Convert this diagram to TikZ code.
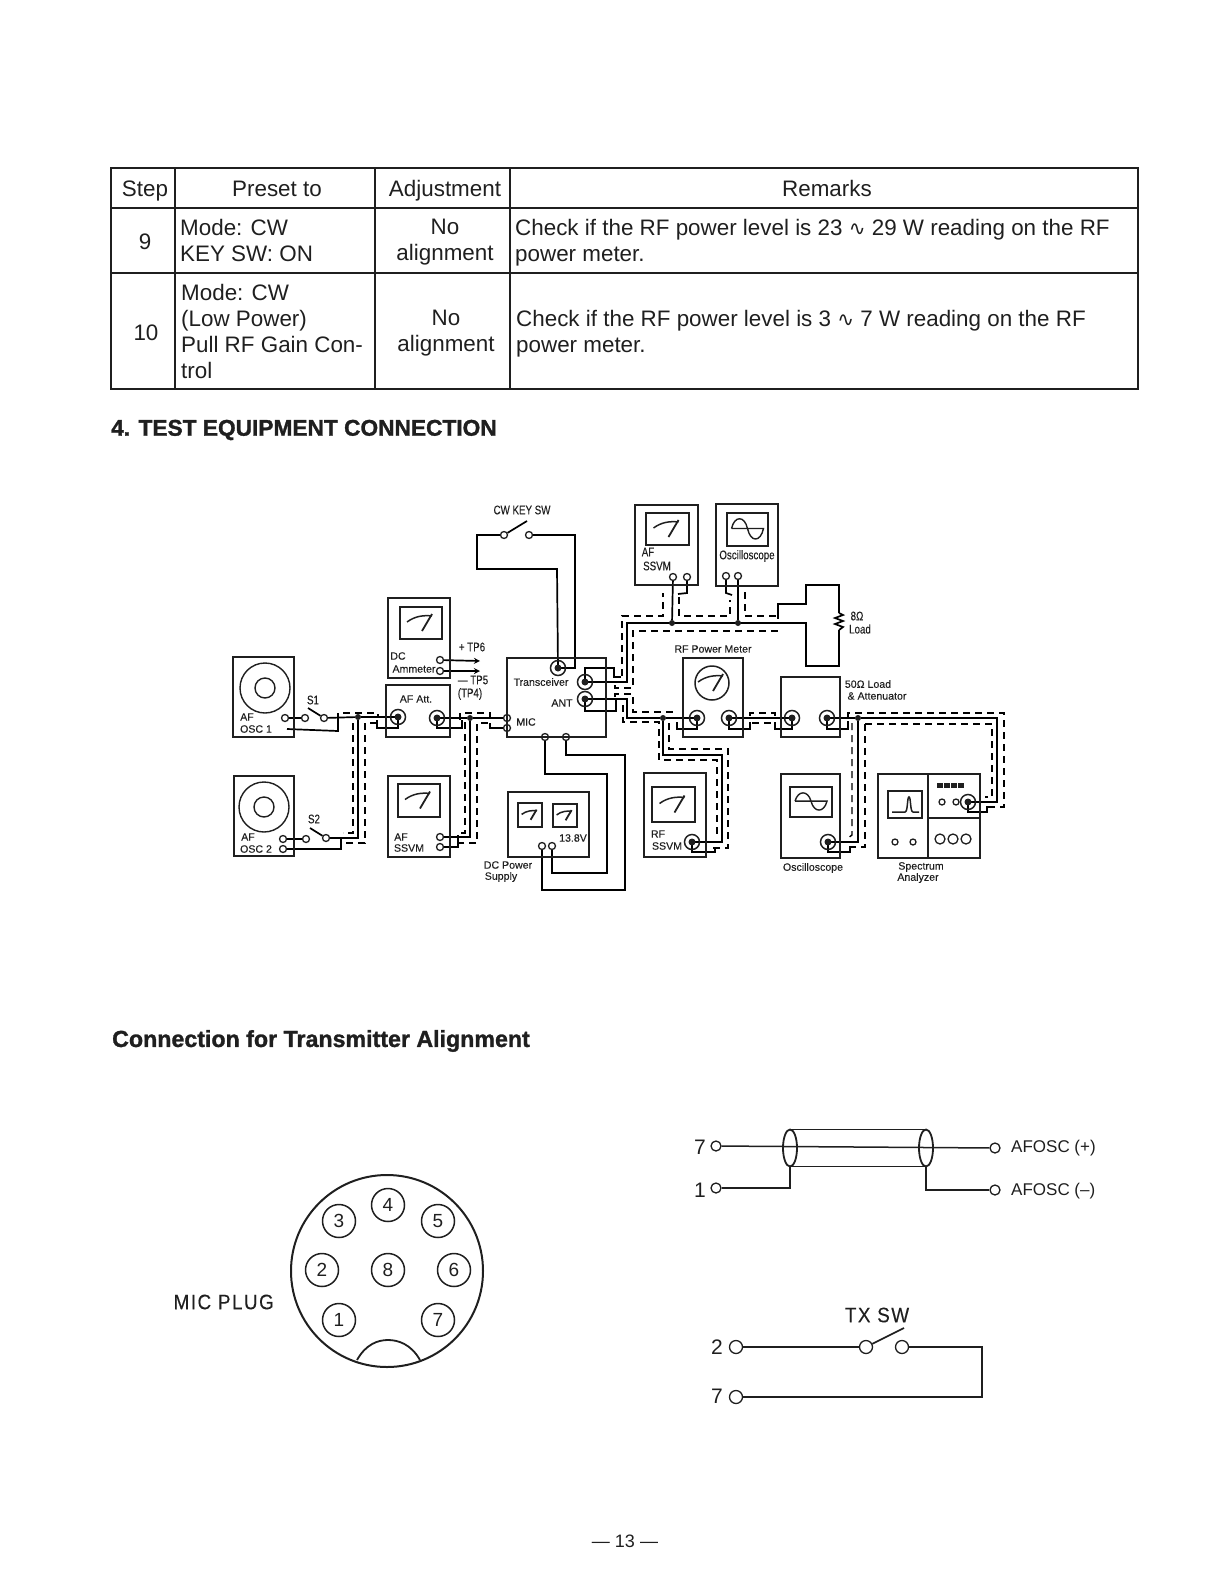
\documentclass[tikz,border=0pt]{standalone}
\usepackage{fontspec}
\usepackage{amsmath, amssymb}
\setmainfont{Liberation Sans}
\newfontfamily\headfont[BoldFeatures={FakeBold=1.3}]{Liberation Sans}
\newfontfamily\narrowfont[FakeStretch=0.78,FakeBold=0.15]{Liberation Sans}
\newfontfamily\labelfont[FakeBold=0.15]{Liberation Sans}
\newfontfamily\platefont[FakeStretch=0.9,LetterSpace=7,FakeBold=0.2]{Liberation Sans}
\newfontfamily\sinefont{DejaVu Sans}
\usetikzlibrary{arrows.meta, positioning, shapes.geometric, backgrounds, calc}
\colorlet{ink}{black!88}
\begin{document}
\begin{tikzpicture}[
  x=1pt, y=-1pt, color=ink,
  cell/.style={font=\fontsize{22.4}{26}\selectfont, inner sep=0pt, align=left,
    execute at begin node=\strut, execute at end node=\strut},
  ccell/.style={cell, align=center},
  heading/.style={font=\headfont\bfseries\fontsize{22.7}{26}\selectfont, anchor=west, inner sep=0pt},
  lbl/.style={font=\labelfont\fontsize{10.6}{12}\selectfont, inner sep=0pt, align=left},
  cond/.style={font=\narrowfont\fontsize{12.5}{14}\selectfont, inner sep=0pt, align=left},
  plate/.style={font=\fontsize{17}{20}\selectfont, inner sep=0pt, anchor=west},
  spaced/.style={font=\platefont\fontsize{21}{24}\selectfont, inner sep=0pt},
  figure/.style={font=\fontsize{21}{24}\selectfont, inner sep=0pt},
  unit/.style={draw, rectangle, line width=1.7pt, inner sep=0pt},
  screen/.style={draw, rectangle, line width=1.6pt, inner sep=0pt},
  port/.style={circle, draw, line width=1.3pt, inner sep=0pt, minimum size=7pt},
  jack/.style={circle, draw, line width=1.5pt, inner sep=0pt, minimum size=15pt,
    path picture={\fill (path picture bounding box.center) circle (3.5pt);}},
  junc/.style={circle, fill, inner sep=0pt, minimum size=6pt},
  pin/.style={circle, draw, line width=1.5pt, inner sep=0pt, minimum size=33pt,
    font=\fontsize{19}{22}\selectfont},
  capend/.style={ellipse, draw, line width=1.8pt, minimum width=14pt, minimum height=37pt,
    inner sep=0pt, outer sep=0pt},
  wire/.style={line width=1.7pt, line join=miter},
  fine/.style={line width=1.5pt, line join=miter},
  shield/.style={line width=1.4pt, dash pattern=on 7pt off 5pt},
  arr/.style={->, >=stealth, wire},
  rule/.style={line width=1.1pt},
  needle/.pic={
    \draw[line width=1.5pt] (-14,-1) .. controls (-6,-7) and (3,-8) .. (11,-7);
    \draw[line width=1.8pt] (1,8) -- (11,-9);
  },
  wave/.pic={
    \draw[line width=1.4pt] (-16,-1) .. controls (-13,-14) and (-3,-14) .. (0,-1)
      .. controls (3,13) and (13,13) .. (16,-1) -- (-16,-1);
  }
]
  \useasboundingbox (0,0) rectangle (1224,1584);

  % table
  \draw[rule] (111,168) rectangle (1138,389);
  \draw[rule] (111,208) -- (1138,208) (111,273) -- (1138,273);
  \draw[rule] (175,168) -- (175,389) (375,168) -- (375,389) (510,168) -- (510,389);
  \node[ccell] (hStep)   at (145,191) {Step};
  \node[ccell] (hPreset) at (277,191) {Preset to};
  \node[ccell] (hAdj)    at (445,191) {Adjustment};
  \node[ccell] (hRem)    at (827,191) {Remarks};
  \node[ccell] (step9)   at (145,244) {9};
  \node[ccell] (step10)  at (146,335) {10};
  \node[cell, anchor=west] (preset9)  at (180,244) {Mode: CW\\KEY SW: ON};
  \node[cell, anchor=west] (preset10) at (181,335) {Mode: CW\\(Low Power)\\Pull RF Gain Con-\\trol};
  \node[ccell] (adj9)  at (445,244) {No\\alignment};
  \node[ccell] (adj10) at (446,335) {No\\alignment};
  \node[cell, anchor=west] (rem9)  at (515,244)
    {Check if the RF power level is 23 {\sinefont\fontsize{20}{20}\selectfont ∿} 29 W reading on the RF\\power meter.};
  \node[cell, anchor=west] (rem10) at (516,335)
    {Check if the RF power level is 3 {\sinefont\fontsize{20}{20}\selectfont ∿} 7 W reading on the RF\\power meter.};
  \node[heading] (head4) at (111,430) {4. TEST EQUIPMENT CONNECTION};
  \node[heading, font=\headfont\bfseries\fontsize{23.2}{26}\selectfont] (headTx) at (112,1041) {Connection for Transmitter Alignment};

  % instruments
  \foreach \nm/\xa/\ya/\xb/\yb in
    {oscA/233/657/294/737, oscB/234/776/294/856, ammeter/388/598/450/678,
     att/386/685/450/737, ssvmA/388/776/450/857, xcvr/507/658/606/737,
     supply/508/792/589/857, ssvmB/635/505/698/585, scopeA/716/504/778/586,
     rfmeter/683/658/743/737, ssvmC/644/773/706/857, load/781/677/840/737,
     scopeB/781/774/840/858, analyzer/878/774/980/858}
    \node[unit, minimum width={(\xb-\xa)*1pt}, minimum height={(\yb-\ya)*1pt}]
      (\nm) at ({(\xa+\xb)/2},{(\ya+\yb)/2}) {};
  \foreach \nm/\xa/\ya/\xb/\yb in
    {scrC/400/607/442/639, scrS/398/784/440/817, scrM1/518/803/542/827, scrM2/553/804/577/827,
     scrT/646/513/689/545, scrO/727/513/768/546, scrR/652/787/695/822, scrP/790/787/832/817,
     scrA/888/791/922/818}
    \node[screen, minimum width={(\xb-\xa)*1pt}, minimum height={(\yb-\ya)*1pt}]
      (\nm) at ({(\xa+\xb)/2},{(\ya+\yb)/2}) {};
  \foreach \nm in {scrC, scrS, scrT, scrR} \pic at (\nm) {needle};
  \foreach \nm in {scrM1, scrM2} \pic[scale=.6] at (\nm) {needle};
  \foreach \nm in {scrO} \pic at (\nm) {wave};
  \foreach \nm in {scrP} \pic[yscale=.85] at (\nm) {wave};
  \pic at (712,683) {needle};
  \node[circle, draw, line width=1.5pt, minimum size=34pt, inner sep=0pt] (dial) at (712,683) {};
  \foreach \nm/\cx/\cy in {dialA/265/688, dialB/264/807} {
    \node[circle, draw, line width=1.4pt, minimum size=50pt, inner sep=0pt] (\nm) at (\cx,\cy) {};
    \node[circle, draw, line width=1.4pt, minimum size=20pt, inner sep=0pt] (\nm c) at (\cx,\cy) {};
  }
  % analyzer front
  \draw[unit] (928,774) -- (928,858) (928,818) -- (980,818);
  \draw[line width=1.5pt] (892,812) -- (905,812) .. controls (908,812) and (907,797) .. (909,797)
    .. controls (911,797) and (910,812) .. (913,812) -- (919,812);
  \foreach \nm/\cx/\cy in {knA/942/802, knB/956/802, knC/895/842, knD/913/842}
    \node[circle, draw, line width=1.3pt, minimum size=6pt, inner sep=0pt] (\nm) at (\cx,\cy) {};
  \foreach \nm/\cx in {rdA/940, rdB/953, rdC/966}
    \node[circle, draw, line width=1.3pt, minimum size=10pt, inner sep=0pt] (\nm) at (\cx,839) {};
  \foreach \nm/\cx in {ledA/940, ledB/947, ledC/954, ledD/961}
    \node[rectangle, fill, minimum width=5.5pt, minimum height=5pt, inner sep=0pt] (\nm) at (\cx,785.5) {};

  % labels
  \node[lbl] (tOscA1) at (247,717) {AF};
  \node[lbl] (tOscA2) at (256,729) {OSC 1};
  \node[lbl] (tOscB1) at (248,837) {AF};
  \node[lbl] (tOscB2) at (256,849) {OSC 2};
  \node[cond] (tS1) at (313,700) {S1};
  \node[cond] (tS2) at (314,819) {S2};
  \node[lbl] (tAm1) at (398,656) {DC};
  \node[lbl] (tAm2) at (414,669) {Ammeter};
  \node[cond] (tTP6) at (472,647) {+ TP6};
  \node[cond] (tTP5) at (473,680) {— TP5};
  \node[cond] (tTP4) at (470,694) {(TP4)};
  \node[lbl] (tAtt) at (416,699) {AF Att.};
  \node[lbl] (tSs1) at (401,837) {AF};
  \node[lbl] (tSs2) at (409,848) {SSVM};
  \node[lbl] (tXc)  at (541,682) {Transceiver};
  \node[lbl] (tAnt) at (562,703) {ANT};
  \node[lbl] (tMic) at (526,722) {MIC};
  \node[cond] (tKey) at (522,510) {CW KEY SW};
  \node[lbl] (t138) at (573,838) {13.8V};
  \node[lbl] (tDc1) at (508,865) {DC Power};
  \node[lbl] (tDc2) at (501,877) {Supply};
  \node[cond] (tTs1) at (648,552) {AF};
  \node[cond] (tTs2) at (657,566) {SSVM};
  \node[cond] (tOs)  at (747,556) {Oscilloscope};
  \node[cond] (t8a)  at (857,616) {8Ω};
  \node[cond] (t8b)  at (860,629) {Load};
  \node[lbl] (tRf)  at (713,649) {RF Power Meter};
  \node[lbl] (t50a) at (868,684) {50Ω Load};
  \node[lbl] (t50b) at (877,696) {\& Attenuator};
  \node[lbl] (tRs1) at (658,834) {RF};
  \node[lbl] (tRs2) at (667,846) {SSVM};
  \node[lbl] (tOb)  at (813,868) {Oscilloscope};
  \node[lbl] (tSa1) at (921,867) {Spectrum};
  \node[lbl] (tSa2) at (918,878) {Analyzer};

  % ports and jacks
  \foreach \nm/\cx/\cy in
    {pA1/285/718, pA2/305/718, swS1/324/718, pB1/283/839, pB2/306/839, pB3/283/849, swS2/326/838,
     pC1/440/660, pC2/440/671, pS1/440/837, pS2/440/847, micA/507/718, micB/507/728,
     xcA/545/737, xcB/566/737, supA/542/846, supB/552/846, keyA/504/535, keyB/529/535,
     pU1/673/577, pU2/687/577, pV1/726/576, pV2/738/576}
    \node[port] (\nm) at (\cx,\cy) {};
  \foreach \nm/\cx/\cy in
    {jAttL/398/717, jAttR/437/718, jKey/558/668, jAntA/585/682, jAntB/585/699,
     jP1/697/718, jP2/729/718, jQ1/792/718, jQ2/827/718, jR/692/842, jO/828/842, jSA/968/802}
    \node[jack] (\nm) at (\cx,\cy) {};
  \foreach \nm/\cx/\cy in
    {dotL/358/717, dotM/470/718, dotU1/672/623, dotU2/738/623, dotR/663/718, dotS/858/718}
    \node[junc] (\nm) at (\cx,\cy) {};
  \coordinate (oscAgnd) at (287,729);
  \coordinate (arrC1) at (480,661);
  \coordinate (arrC2) at (480,671);

  \begin{scope}[on background layer]
    % solid wires
    \draw[wire] (pA1) -- (pA2);
    \draw[wire] (swS1) -- (308,708);
    \draw[wire] (swS1) -- (dotL) -- (jAttL.center);
    \draw[wire] (oscAgnd) -- (338,731) -- (338,720);
    \draw[wire] (dotL) -- (358,838) -- (swS2);
    \draw[wire] (pB1) -- (pB2);
    \draw[wire] (swS2) -- (310,828);
    \draw[wire] (pB3) -- (341,849) -- (341,837);
    \draw[fine] (jAttL.center) -- (398,728) -- (377,728) -- (377,720);
    \draw[fine] (jAttR.center) -- (437,728) -- (462,728) -- (462,720);
    \draw[wire] (jAttR.center) -- (dotM) -- (micA);
    \draw[wire] (dotM) -- (470,837) -- (pS1);
    \draw[wire] (pS2) -- (458,847) -- (458,835);
    \draw[wire] (micB) -- (490,728) -- (490,723);
    \draw[arr] (pC1) -- (arrC1);
    \draw[arr] (pC2) -- (arrC2);
    \draw[wire] (keyB) -- (575,535) -- (575,668) -- (jKey.center);
    \draw[wire] (keyA) -- (477,535) -- (477,569) -- (557,569) -- (jKey.center);
    \draw[wire] (keyA) -- (527,521);
    \draw[wire] (xcA) -- (545,774) -- (607,774) -- (607,873) -- (552,873) -- (supB);
    \draw[wire] (xcB) -- (566,755) -- (625,755) -- (625,890) -- (542,890) -- (supA);
    \draw[wire] (jAntA.center) -- (627,682) -- (627,623) -- (806,623) -- (806,666)
      -- (839,666) -- (839,630);
    \draw[wire] (839,630) -- (843,627) -- (835,624) -- (843,621) -- (835,618) -- (843,615) -- (839,613);
    \draw[wire] (839,613) -- (839,585) -- (806,585) -- (806,604) -- (778,604) -- (778,619);
    \draw[wire] (pU1) -- (dotU1);
    \draw[wire] (pV2) -- (dotU2);
    \draw[wire] (pU2) -- (687,593) -- (678,594);
    \draw[wire] (pV1) -- (726,593) -- (732,595);
    \draw[wire] (jAntA.center) -- (585,668) -- (614,668) -- (614,677) -- (621,677);
    \draw[wire] (jAntB.center) -- (627,699) -- (627,718) -- (dotR) -- (jP1.center);
    \draw[wire] (jAntB.center) -- (585,711) -- (616,711) -- (616,700);
    \draw[fine] (jP1.center) -- (697,729) -- (677,729) -- (677,722);
    \draw[wire] (dotR) -- (663,755) -- (722,755) -- (722,842) -- (jR.center);
    \draw[fine] (jR.center) -- (692,852) -- (715,852) -- (715,847);
    \draw[wire] (jP2.center) -- (jQ1.center);
    \draw[fine] (jP2.center) -- (729,729) -- (750,729) -- (750,722);
    \draw[fine] (jQ1.center) -- (792,729) -- (775,729) -- (775,722);
    \draw[wire] (jQ2.center) -- (dotS) -- (997,718) -- (997,802) -- (jSA.center);
    \draw[wire] (dotS) -- (858,842) -- (jO.center);
    \draw[fine] (jQ2.center) -- (827,729) -- (848,729) -- (848,721);
    \draw[fine] (jO.center) -- (828,852) -- (850,852) -- (850,846);
    \draw[fine] (jSA.center) -- (968,812) -- (987,812) -- (987,806);
    % cable shields
    \draw[shield] (338,720) -- (338,713) -- (378,713) -- (378,718);
    \draw[shield] (353,723) -- (353,833) -- (343,833);
    \draw[shield] (377,723) -- (365,723) -- (365,843) -- (342,843);
    \draw[shield] (460,720) -- (460,713) -- (490,713) -- (490,718);
    \draw[shield] (465,722) -- (465,833) -- (458,833);
    \draw[shield] (488,723) -- (477,723) -- (477,843) -- (458,843);
    \draw[shield] (622,676) -- (622,616) -- (663,616) -- (663,593);
    \draw[shield] (679,597) -- (679,616) -- (730,616) -- (730,600);
    \draw[shield] (745,592) -- (745,616) -- (778,616);
    \draw[shield] (615,685) -- (615,688) -- (633,688) -- (633,631) -- (780,631);
    \draw[shield] (615,697) -- (615,694) -- (633,694) -- (633,712) -- (677,712);
    \draw[shield] (623,705) -- (623,722) -- (659,722) -- (659,760) -- (717,760) -- (717,837);
    \draw[shield] (669,723) -- (669,749) -- (728,749) -- (728,848) -- (713,848);
    \draw[shield] (750,716) -- (750,713) -- (775,713) -- (775,716);
    \draw[shield] (752,723) -- (773,723);
    \draw[shield] (848,718) -- (848,713) -- (1004,713) -- (1004,807) -- (987,807);
    \draw[shield] (865,724) -- (992,724) -- (992,797) -- (985,797);
    \draw[shield] (852,723) -- (852,835) -- (848,838);
    \draw[shield] (865,724) -- (865,847) -- (848,847);
  \end{scope}

  % mic plug
  \node[circle, draw, line width=2pt, minimum size=192pt, inner sep=0pt] (plug) at (387,1271) {};
  \foreach \n/\cx/\cy in {4/388/1205, 3/339/1221, 5/438/1221, 2/322/1270, 8/388/1270,
                          6/454/1270, 1/339/1320, 7/438/1320}
    \node[pin] (pin\n) at (\cx,\cy) {\n};
  \draw[line width=1.8pt] (357,1360) .. controls (366,1344) and (378,1340) .. (388,1340)
    .. controls (398,1340) and (411,1344) .. (420,1360);
  \node[spaced, anchor=east] (tPlug) at (274,1302) {MIC PLUG};

  % cable
  \node[port, minimum size=10pt] (h7) at (716,1146) {};
  \node[port, minimum size=10pt] (h1) at (716,1188) {};
  \node[port, minimum size=10pt] (hP) at (995,1148) {};
  \node[port, minimum size=10pt] (hN) at (995,1190) {};
  \node[capend] (capL) at (790,1148) {};
  \node[capend] (capR) at (926,1148) {};
  \draw[fine] (h7) -- (hP);
  \draw[wire] (capL.north) -- (capR.north);
  \draw[wire] (capL.south) -- (capR.south);
  \draw[wire] (capL.south) -- (790,1188) -- (h1);
  \draw[wire] (capR.south) -- (926,1190) -- (hN);
  \node[figure] (n7a) at (700,1147) {7};
  \node[figure] (n1a) at (700,1190) {1};
  \node[plate] (tPlus)  at (1011,1148) {AFOSC (+)};
  \node[plate] (tMinus) at (1011,1191) {AFOSC (--)};

  % tx switch
  \node[spaced] (tTx) at (877,1315) {TX SW};
  \node[port, minimum size=13pt] (g2) at (736,1347) {};
  \node[port, minimum size=13pt] (g7) at (736,1397) {};
  \node[port, minimum size=13pt] (txA) at (866,1347) {};
  \node[port, minimum size=13pt] (txB) at (902,1347) {};
  \coordinate (txTip) at (904,1328);
  \draw[wire] (g2) -- (txA);
  \draw[wire] (txA) -- (txTip);
  \draw[wire] (txB) -- (982,1347) -- (982,1397) -- (g7);
  \node[figure] (n2b) at (717,1347) {2};
  \node[figure] (n7b) at (717,1396) {7};

  \node[font=\fontsize{18}{20}\selectfont, inner sep=0pt] (pageno) at (625,1541) {--- 13 ---};
\end{tikzpicture}
\end{document}
